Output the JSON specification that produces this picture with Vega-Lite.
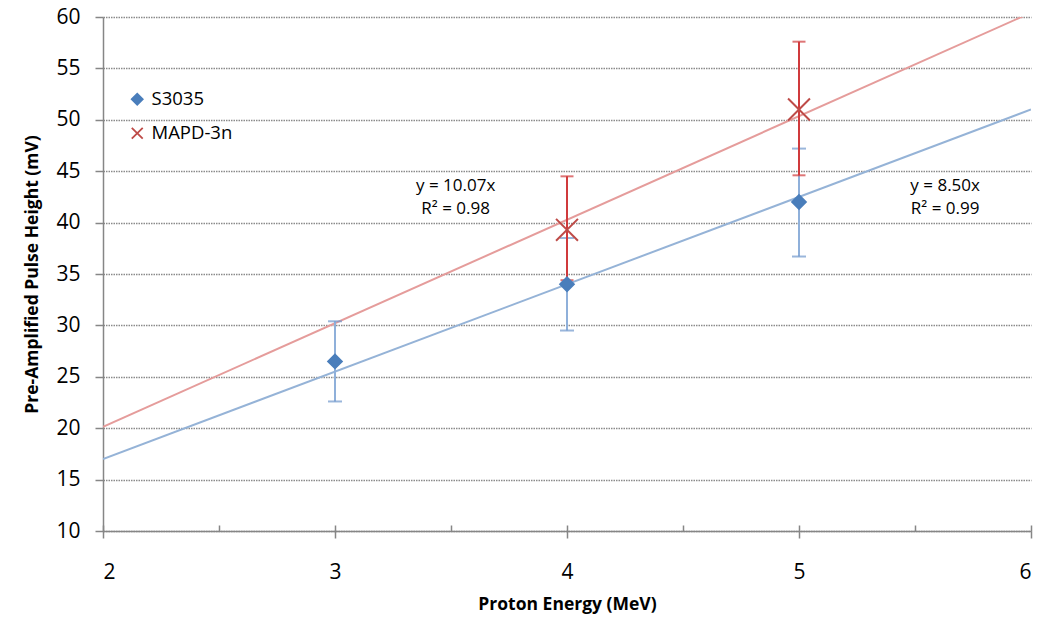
{
  "$schema": "https://vega.github.io/schema/vega-lite/v6.json",
  "width": 928,
  "height": 514,
  "autosize": {"type": "none"},
  "padding": {"left": 103, "top": 17, "right": 9, "bottom": 90},
  "background": "white",
  "config": {
    "font": "Open Sans",
    "view": {"stroke": null},
    "axis": {
      "domainColor": "#868686",
      "domainWidth": 1.5,
      "tickColor": "#868686",
      "tickWidth": 1.5,
      "labelColor": "#000000",
      "titleColor": "#000000",
      "labelFont": "Open Sans",
      "titleFont": "Open Sans"
    },
    "legend": {
      "orient": "none",
      "legendX": 25,
      "legendY": 73,
      "labelFontSize": 18.5,
      "labelColor": "#000000",
      "labelFont": "Open Sans",
      "symbolSize": 120,
      "symbolStrokeWidth": 1.8,
      "rowPadding": 15,
      "labelOffset": 5
    }
  },
  "datasets": {
    "points": [
      {"series": "S3035", "energy": 3, "height": 26.5, "low": 22.6, "high": 30.4},
      {"series": "S3035", "energy": 4, "height": 34.0, "low": 29.5, "high": 38.5},
      {"series": "S3035", "energy": 5, "height": 42.0, "low": 36.7, "high": 47.2},
      {"series": "MAPD-3n", "energy": 4, "height": 39.3, "low": 34.4, "high": 44.5},
      {"series": "MAPD-3n", "energy": 5, "height": 51.0, "low": 44.6, "high": 57.6}
    ],
    "fits": [
      {"series": "S3035", "energy": 2, "height": 17.0},
      {"series": "S3035", "energy": 6, "height": 51.0},
      {"series": "MAPD-3n", "energy": 2, "height": 20.14},
      {"series": "MAPD-3n", "energy": 6, "height": 60.42}
    ],
    "labels": [
      {"energy": 3.52, "height": 43.55, "text": "y = 10.07x"},
      {"energy": 3.52, "height": 41.3, "text": "R² = 0.98"},
      {"energy": 5.63, "height": 43.55, "text": "y = 8.50x"},
      {"energy": 5.63, "height": 41.3, "text": "R² = 0.99"}
    ]
  },
  "resolve": {"axis": {"x": "independent"}},
  "layer": [
    {
      "data": {"name": "fits"},
      "transform": [{"filter": "datum.series === 'S3035'"}],
      "mark": {"type": "line", "color": "#95b3d7", "strokeWidth": 2, "clip": true},
      "encoding": {
        "x": {
          "field": "energy", "type": "quantitative",
          "scale": {"domain": [2, 6], "nice": false, "zero": false},
          "axis": {
            "orient": "bottom",
            "values": [2, 2.5, 3, 3.5, 4, 4.5, 5, 5.5, 6],
            "tickSize": -6,
            "labels": false,
            "domain": false,
            "grid": false,
            "title": null
          }
        },
        "y": {
          "field": "height", "type": "quantitative",
          "scale": {"domain": [10, 60], "nice": false, "zero": false},
          "axis": {
            "values": [10, 15, 20, 25, 30, 35, 40, 45, 50, 55, 60],
            "tickSize": 8,
            "labelFontSize": 21,
            "labelPadding": 15,
            "grid": true,
            "gridColor": "#8a8a8a",
            "gridDash": [1.5, 1],
            "gridWidth": 1.5,
            "title": "Pre-Amplified Pulse Height (mV)",
            "titleFontSize": 17.5,
            "titleFontWeight": "bold",
            "titlePadding": 14
          }
        }
      }
    },
    {
      "data": {"name": "fits"},
      "transform": [{"filter": "datum.series === 'MAPD-3n'"}],
      "mark": {"type": "line", "color": "#e59c9b", "strokeWidth": 2, "clip": true},
      "encoding": {
        "x": {"field": "energy", "type": "quantitative", "axis": null},
        "y": {"field": "height", "type": "quantitative"}
      }
    },
    {
      "data": {"name": "points"},
      "transform": [{"filter": "datum.series === 'S3035'"}],
      "layer": [
        {
          "mark": {"type": "rule", "color": "#8fb0da", "strokeWidth": 2},
          "encoding": {
            "x": {"field": "energy", "type": "quantitative", "axis": null},
            "y": {"field": "low", "type": "quantitative"},
            "y2": {"field": "high"}
          }
        },
        {
          "mark": {"type": "tick", "orient": "horizontal", "color": "#6f97cc", "size": 14, "thickness": 2},
          "encoding": {
            "x": {"field": "energy", "type": "quantitative", "axis": null},
            "y": {"field": "low", "type": "quantitative"}
          }
        },
        {
          "mark": {"type": "tick", "orient": "horizontal", "color": "#6f97cc", "size": 14, "thickness": 2},
          "encoding": {
            "x": {"field": "energy", "type": "quantitative", "axis": null},
            "y": {"field": "high", "type": "quantitative"}
          }
        }
      ]
    },
    {
      "data": {"name": "points"},
      "transform": [{"filter": "datum.series === 'MAPD-3n'"}],
      "layer": [
        {
          "mark": {"type": "rule", "color": "#d03a3c", "strokeWidth": 2},
          "encoding": {
            "x": {"field": "energy", "type": "quantitative", "axis": null},
            "y": {"field": "low", "type": "quantitative"},
            "y2": {"field": "high"}
          }
        },
        {
          "mark": {"type": "tick", "orient": "horizontal", "color": "#d03a3c", "size": 13, "thickness": 2},
          "encoding": {
            "x": {"field": "energy", "type": "quantitative", "axis": null},
            "y": {"field": "low", "type": "quantitative"}
          }
        },
        {
          "mark": {"type": "tick", "orient": "horizontal", "color": "#d03a3c", "size": 13, "thickness": 2},
          "encoding": {
            "x": {"field": "energy", "type": "quantitative", "axis": null},
            "y": {"field": "high", "type": "quantitative"}
          }
        }
      ]
    },
    {
      "data": {"name": "points"},
      "transform": [{"filter": "datum.series === 'S3035'"}],
      "mark": {"type": "point", "strokeWidth": 2, "opacity": 1, "size": 185},
      "encoding": {
        "x": {
          "field": "energy", "type": "quantitative",
          "axis": {
            "orient": "bottom",
            "values": [2, 3, 4, 5, 6],
            "tickSize": 7,
            "labelFontSize": 21,
            "labelPadding": 23,
            "grid": false,
            "title": "Proton Energy (MeV)",
            "titleFontSize": 17.5,
            "titleFontWeight": "bold",
            "titlePadding": 13
          }
        },
        "y": {"field": "height", "type": "quantitative"},
        "shape": {
          "field": "series", "type": "nominal", "title": null,
          "scale": {"domain": ["S3035", "MAPD-3n"], "range": ["diamond", "M-1,-1L1,1M1,-1L-1,1"]}
        },
        "fill": {
          "field": "series", "type": "nominal", "title": null,
          "scale": {"domain": ["S3035", "MAPD-3n"], "range": ["#4a7ebb", "transparent"]}
        },
        "stroke": {
          "field": "series", "type": "nominal", "title": null,
          "scale": {"domain": ["S3035", "MAPD-3n"], "range": ["#4a7ebb", "#be4b48"]}
        }
      }
    },
    {
      "data": {"name": "points"},
      "transform": [{"filter": "datum.series === 'MAPD-3n'"}],
      "mark": {"type": "point", "strokeWidth": 2, "opacity": 1, "size": 480},
      "encoding": {
        "x": {"field": "energy", "type": "quantitative", "axis": null},
        "y": {"field": "height", "type": "quantitative"},
        "shape": {"field": "series", "type": "nominal", "title": null},
        "fill": {"field": "series", "type": "nominal", "title": null},
        "stroke": {"field": "series", "type": "nominal", "title": null}
      }
    },
    {
      "data": {"name": "labels"},
      "mark": {"type": "text", "fontSize": 17, "font": "Open Sans", "align": "center", "baseline": "middle", "color": "#000000"},
      "encoding": {
        "x": {"field": "energy", "type": "quantitative", "axis": null},
        "y": {"field": "height", "type": "quantitative"},
        "text": {"field": "text"}
      }
    }
  ]
}
